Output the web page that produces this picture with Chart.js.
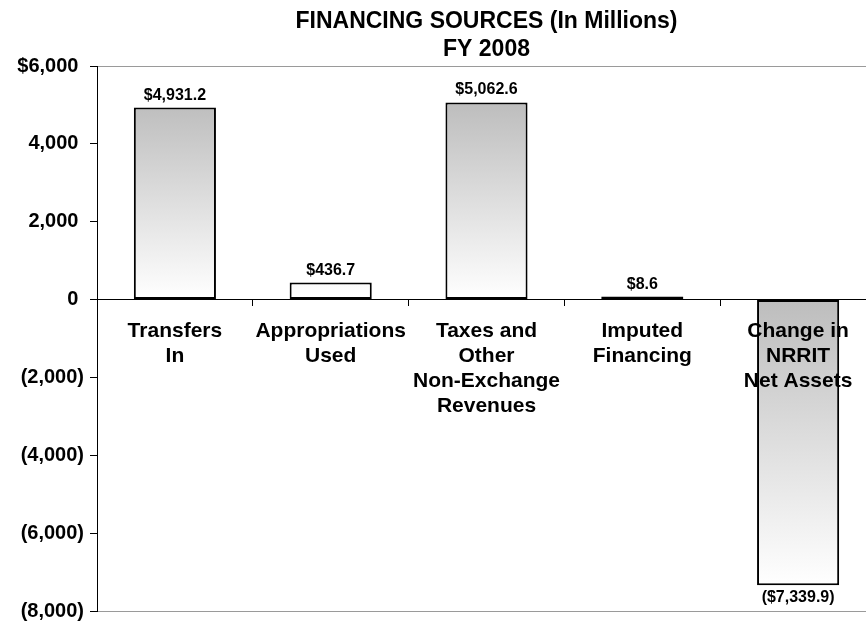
<!DOCTYPE html>
<html>
<head>
<meta charset="utf-8">
<script src="https://cdn.jsdelivr.net/npm/chart.js@4.4.1/dist/chart.umd.min.js"></script>
<style>
  html, body { margin: 0; padding: 0; background: #fff; overflow: hidden; }
  #wrap { width: 866px; height: 625px; overflow: hidden; }
</style>
</head>
<body>
<div id="wrap"><canvas id="financingChart" width="880" height="629"></canvas></div>
<script>
// Financing sources, FY 2008 (in millions)
const categories = [
    ['Transfers', 'In'],
    ['Appropriations', 'Used'],
    ['Taxes and', 'Other', 'Non-Exchange', 'Revenues'],
    ['Imputed', 'Financing'],
    ['Change in', 'NRRIT', 'Net Assets']
];
const amounts = [4931.2, 436.7, 5062.6, 8.6, -7339.9];
const yTicks = [6000, 4000, 2000, 0, -2000, -4000, -6000, -8000];
const yTickLabels = ['$6,000 ', '4,000 ', '2,000 ', '0 ', '(2,000)', '(4,000)', '(6,000)', '(8,000)'];

const FONT = '"Liberation Sans", Arial, sans-serif';

function fmtMoney(v) {
    const s = '$' + Math.abs(v).toLocaleString('en-US', { minimumFractionDigits: 1, maximumFractionDigits: 1 });
    return v < 0 ? '(' + s + ')' : s;
}

// gray at the top fading to white, positive and negative bars each get their own ramp
function barFill(context) {
    const chart = context.chart;
    if (!chart.chartArea) return '#d0d0d0';
    const y = chart.scales.y;
    const zero = y.getPixelForValue(0);
    let g;
    if (context.raw >= 0) {
        g = chart.ctx.createLinearGradient(0, y.getPixelForValue(Math.max(...amounts)), 0, zero);
    } else {
        g = chart.ctx.createLinearGradient(0, zero, 0, y.getPixelForValue(Math.min(...amounts)));
    }
    g.addColorStop(0, '#bdbdbd');
    g.addColorStop(1, '#ffffff');
    return g;
}

// dollar amounts above / below each bar
const valueLabels = {
    id: 'valueLabels',
    afterDatasetsDraw(chart) {
        const ctx = chart.ctx;
        const meta = chart.getDatasetMeta(0);
        ctx.save();
        ctx.font = 'bold 16px ' + FONT;
        ctx.fillStyle = '#000';
        ctx.textAlign = 'center';
        ctx.textBaseline = 'alphabetic';
        meta.data.forEach((bar, i) => {
            const v = amounts[i];
            if (v >= 0) {
                ctx.fillText(fmtMoney(v), bar.x, bar.y - 8);
            } else {
                ctx.fillText(fmtMoney(v), bar.x, bar.y + 17);
            }
        });
        ctx.restore();
    }
};

const ctx = document.getElementById('financingChart').getContext('2d');

const myChart = new Chart(ctx, {
    type: 'bar',
    data: {
        labels: categories,
        datasets: [{
            label: 'Financing Sources',
            data: amounts,
            backgroundColor: barFill,
            borderColor: '#000',
            borderWidth: 2,
            borderSkipped: false,
            minBarLength: 3,
            barPercentage: 0.527,
            categoryPercentage: 1
        }]
    },
    options: {
        responsive: false,
        animation: false,
        layout: {
            padding: { left: 0, right: 4, top: 0, bottom: 0 }
        },
        plugins: {
            legend: { display: false },
            tooltip: { enabled: false },
            title: {
                display: true,
                fullSize: false,
                text: ['FINANCING SOURCES (In Millions)', 'FY 2008'],
                color: '#000',
                font: { family: FONT, size: 23, weight: 'bold', lineHeight: '28px' },
                padding: { top: 8, bottom: 2 }
            }
        },
        scales: {
            x: {
                position: { y: 0 },
                offset: true,
                grid: {
                    offset: true,
                    drawOnChartArea: false,
                    drawTicks: true,
                    tickLength: 6,
                    color: '#000'
                },
                border: { display: true, color: '#000', width: 1 },
                ticks: {
                    z: 1,
                    padding: 13,
                    color: '#000',
                    maxRotation: 0,
                    autoSkip: false,
                    font: { family: FONT, size: 21, weight: 'bold', lineHeight: '25px' }
                }
            },
            y: {
                min: yTicks[yTicks.length - 1],
                max: yTicks[0],
                afterBuildTicks: (scale) => {
                    scale.ticks = yTicks.map(v => ({ value: v }));
                },
                afterFit: (scale) => {
                    scale.width = 97;
                },
                border: { display: true, color: '#000', width: 1 },
                grid: {
                    color: (c) => (c.tick && (c.tick.value === yTicks[0] || c.tick.value === yTicks[yTicks.length - 1])) ? '#9a9a9a' : 'rgba(0,0,0,0)',
                    tickColor: '#000',
                    tickLength: 7
                },
                ticks: {
                    padding: 6,
                    color: '#000',
                    font: { family: FONT, size: 20, weight: 'bold' },
                    callback: (value) => yTickLabels[yTicks.indexOf(value)]
                }
            }
        }
    },
    plugins: [valueLabels]
});
</script>
</body>
</html>
